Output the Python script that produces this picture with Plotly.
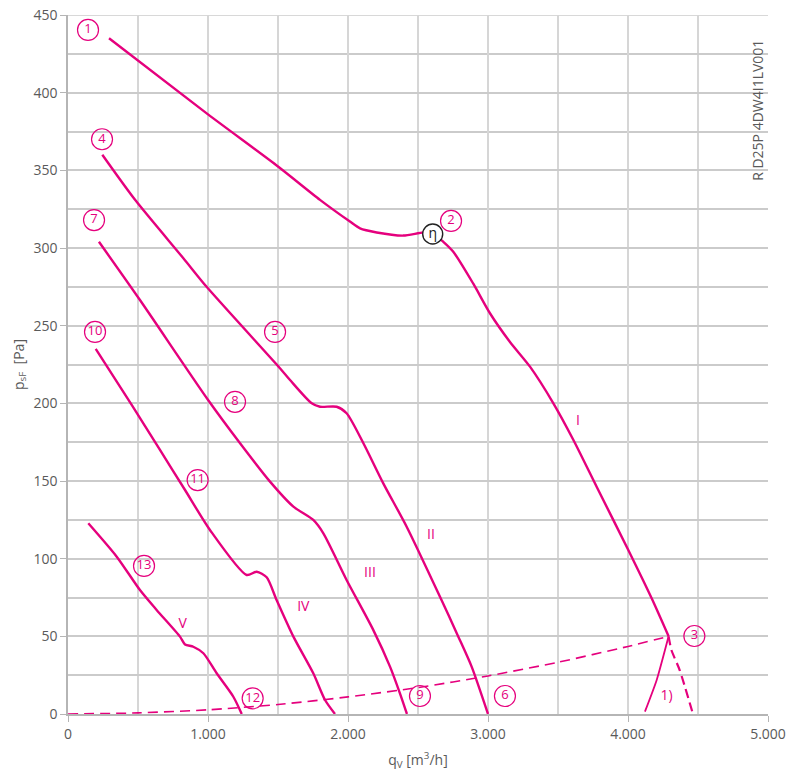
import plotly.graph_objects as go

PINK = "#e5007d"
GREY_TXT = "#5a5a5a"
FONT = "Open Sans"

# --- characteristic curves (q_V in m3/h, p_sF in Pa) ---
curve_I_x = [293, 1000, 1500, 1800, 2014, 2086, 2205, 2395, 2538, 2605, 2681, 2752, 2895, 3014, 3157, 3300, 3467, 3610, 3776, 4002, 4169, 4290]
curve_I_y = [435, 386, 352.5, 331, 317, 312.6, 310, 308, 310, 309.5, 304, 297.6, 277, 258, 239.5, 223.6, 200, 176.4, 146.3, 105.6, 74.5, 50]

curve_I_ext_x = [4290, 4310, 4369, 4464]
curve_I_ext_y = [50, 41.2, 28.3, 0]

curve_II_x = [245, 479, 824, 990, 1514, 1586, 1741, 1800, 1919, 1990, 2110, 2252, 2419, 2657, 2788, 2883, 3000]
curve_II_y = [360, 331, 293.4, 275, 222.6, 215, 200, 197.8, 197.8, 193.6, 174.3, 148.5, 120.6, 75.5, 49.8, 30.5, 0]

curve_III_x = [221, 514, 1002, 1229, 1443, 1610, 1752, 1824, 1990, 2181, 2300, 2371, 2421]
curve_III_y = [304, 266.5, 202, 174.3, 149.6, 133.5, 124.9, 116.3, 86.3, 54, 30.5, 13.3, 0]

curve_IV_x = [198, 455, 657, 836, 1014, 1276, 1348, 1419, 1490, 1610, 1752, 1836, 1907]
curve_IV_y = [235, 199, 170, 144.2, 118.5, 89.5, 91.6, 88, 73.4, 49.8, 26.2, 9, 0]

curve_V_x = [145, 348, 514, 633, 800, 836, 895, 967, 1062, 1181, 1241]
curve_V_y = [122.8, 101.3, 79.8, 67, 49.8, 44.8, 43.3, 39.1, 26.2, 11.1, 0]

curve_1_x = [4121, 4205, 4290]
curve_1_y = [1.5, 21.9, 50]

system_x = [0, 500, 1000, 1500, 2000, 2500, 3000, 3500, 4000, 4290]
system_y = [0, 0.7, 2.7, 6.1, 11, 17, 24.5, 33.3, 43.5, 50]

# --- labels ---
point_labels = ["1", "2", "3", "4", "5", "6", "7", "8", "9", "10", "11", "12", "13"]
point_x = [143, 2736, 4474, 243, 1479, 3121, 186, 1193, 2514, 193, 926, 1319, 543]
point_y = [440.4, 317.4, 50.2, 370, 246, 11.6, 318, 201, 11.6, 246, 150.6, 10.1, 95.3]

roman_labels = ["I", "II", "III", "IV", "V", "1)"]
roman_x = [3643, 2593, 2157, 1681, 819, 4276]
roman_y = [188, 114.6, 90.6, 68.7, 57.7, 11.2]

eta_x = [2605]
eta_y = [309]

x_tickvals = [0, 1000, 2000, 3000, 4000, 5000]
x_ticktext = ["0", "1.000", "2.000", "3.000", "4.000", "5.000"]
y_tickvals = [0, 50, 100, 150, 200, 250, 300, 350, 400, 450]

fig = go.Figure()

line_style = dict(color=PINK, width=2.4, shape="spline", smoothing=0.7)

fig.add_trace(go.Scatter(x=system_x, y=system_y, mode="lines",
                         line=dict(color=PINK, width=1.6, dash="10px,6px", shape="spline", smoothing=0.6)))
for cx, cy in [(curve_I_x, curve_I_y), (curve_II_x, curve_II_y), (curve_III_x, curve_III_y),
               (curve_IV_x, curve_IV_y), (curve_V_x, curve_V_y)]:
    fig.add_trace(go.Scatter(x=cx, y=cy, mode="lines", line=line_style))
fig.add_trace(go.Scatter(x=curve_I_ext_x, y=curve_I_ext_y, mode="lines",
                         line=dict(color=PINK, width=2.2, dash="9px,5px", shape="spline", smoothing=0.6)))
fig.add_trace(go.Scatter(x=curve_1_x, y=curve_1_y, mode="lines",
                         line=dict(color=PINK, width=1.8, shape="spline", smoothing=0.6)))

# circled numbers
fig.add_trace(go.Scatter(x=point_x, y=point_y, mode="markers+text", text=point_labels,
                         textposition="middle center",
                         textfont=dict(family=FONT, size=13, color=PINK),
                         marker=dict(symbol="circle", size=21, color="rgba(255,255,255,0)",
                                     line=dict(color=PINK, width=1.2)),
                         cliponaxis=False))
# roman numerals
fig.add_trace(go.Scatter(x=roman_x, y=roman_y, mode="text", text=roman_labels,
                         textposition="middle center",
                         textfont=dict(family=FONT, size=14, color=PINK)))
# eta marker
fig.add_trace(go.Scatter(x=eta_x, y=eta_y, mode="markers+text", text=["η"],
                         textposition="middle center",
                         textfont=dict(family=FONT, size=14, color="#222"),
                         marker=dict(symbol="circle", size=20, color="white",
                                     line=dict(color="#222", width=1.4))))

fig.add_annotation(text="R D25P 4DW4I1LV001", textangle=-90, xref="paper", yref="paper",
                   x=0.984, y=0.864, xanchor="center", yanchor="middle", showarrow=False,
                   font=dict(family=FONT, size=14, color=GREY_TXT))

# top border grid line
fig.add_shape(type="line", xref="paper", x0=0, x1=1, yref="y",
              y0=y_tickvals[-1], y1=y_tickvals[-1],
              line=dict(color="#cbcbcb", width=1.5), layer="below")

fig.update_layout(
    width=797, height=774,
    margin=dict(l=68, r=29, t=15, b=60, autoexpand=False),
    paper_bgcolor="white", plot_bgcolor="white",
    showlegend=False,
    font=dict(family=FONT, size=13, color=GREY_TXT),
)
fig.update_xaxes(
    range=[0, 5000], tickvals=x_tickvals, ticktext=x_ticktext,
    automargin=False, ticklabeloverflow="allow",
    showgrid=True, gridcolor="#d6d6d6", gridwidth=1.5,
    minor=dict(dtick=500, showgrid=True, gridcolor="#d6d6d6", gridwidth=1.5),
    showline=True, linecolor="#b5b5b5", linewidth=1.5,
    ticks="outside", ticklen=6, tickcolor="#b5b5b5",
    zeroline=False,
    tickfont=dict(family=FONT, size=14, color=GREY_TXT),
    title=dict(text="q<sub>V</sub> [m<sup>3</sup>/h]", standoff=14,
               font=dict(family=FONT, size=14, color=GREY_TXT)),
)
fig.update_yaxes(
    range=[0, 450], tickvals=y_tickvals,
    automargin=False, ticklabeloverflow="allow",
    showgrid=True, gridcolor="#cbcbcb", gridwidth=1.5,
    minor=dict(dtick=25, showgrid=True, gridcolor="#cbcbcb", gridwidth=1.5),
    showline=True, linecolor="#b5b5b5", linewidth=1.5,
    ticks="outside", ticklen=6, tickcolor="#b5b5b5",
    zeroline=False,
    tickfont=dict(family=FONT, size=14, color=GREY_TXT),
    title=dict(text="p<sub>sF</sub>  [Pa]", standoff=6,
               font=dict(family=FONT, size=14, color=GREY_TXT)),
)

# remove the default page margin so the figure sits at the window's top-left corner
fig.write_html("out.html", config={"displayModeBar": False},
               post_script="document.body.style.margin='0';")
